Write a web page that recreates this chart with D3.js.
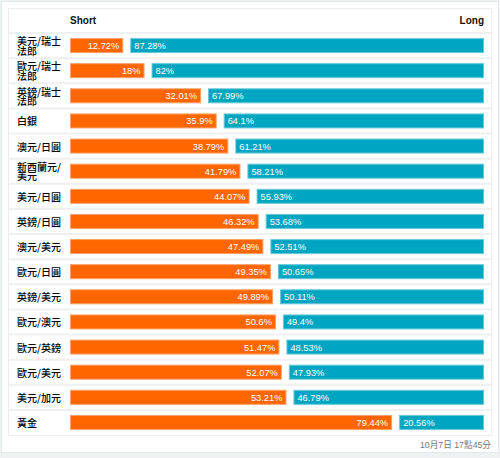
<!DOCTYPE html>
<html><head><meta charset="utf-8">
<script src="https://cdn.jsdelivr.net/npm/d3@7"></script>
<style>
html,body{margin:0;padding:0;background:#eef2f3;}
svg{display:block;}
</style></head>
<body>
<script>
const categories = ["美元/瑞士法郎","歐元/瑞士法郎","英鎊/瑞士法郎","白銀","澳元/日圓","新西蘭元/美元","美元/日圓","英鎊/日圓","澳元/美元","歐元/日圓","英鎊/美元","歐元/澳元","歐元/英鎊","歐元/美元","美元/加元","黃金"];
const shortValues = [12.72,18,32.01,35.9,38.79,41.79,44.07,46.32,47.49,49.35,49.89,50.6,51.47,52.07,53.21,79.44];
const longValues  = [87.28,82,67.99,64.1,61.21,58.21,55.93,53.68,52.51,50.65,50.11,49.4,48.53,47.93,46.79,20.56];
const headers = ["Short","Long"];
const footnote = "10月7日 17點45分";

const W = 500, H = 458;
const svg = d3.select("body").append("svg").attr("width", W).attr("height", H);

// outer white card
svg.append("rect").attr("x",1.5).attr("y",1.5).attr("width",W-3).attr("height",451)
  .attr("fill","#fff").attr("stroke","#e3e8ea");

const panel = {x:8, y:8, w:483, headerH:25, rowH:25.125};
const nRows = categories.length;
const tableBottom = panel.y + panel.headerH + nRows*panel.rowH;

svg.append("rect").attr("x",panel.x+0.5).attr("y",panel.y+0.5)
  .attr("width",panel.w).attr("height",tableBottom-panel.y)
  .attr("fill","#fff").attr("stroke","#eaeeef");

const y = d3.scaleBand().domain(d3.range(nRows))
  .range([panel.y+panel.headerH, tableBottom]).paddingInner(0).paddingOuter(0);

// row separators
svg.append("g").selectAll("line").data(d3.range(nRows))
  .join("line")
  .attr("x1",panel.x+1).attr("x2",panel.x+panel.w)
  .attr("y1",i=>y(i)).attr("y2",i=>y(i))
  .attr("stroke","#eef0f1").attr("stroke-width",2);

const barX0 = 70, barX1 = 484, gap = 7;
const x = d3.scaleLinear().domain([0,100]).range([0, barX1-barX0-gap-4]);
const barH = 15;

// headers
svg.append("text").attr("x",barX0).attr("y",24).text(headers[0])
  .attr("font-family","Liberation Sans, Arial, sans-serif").attr("font-weight","bold")
  .attr("font-size",10).attr("fill","#111");
svg.append("text").attr("x",barX1).attr("y",24).attr("text-anchor","end").text(headers[1])
  .attr("font-family","Liberation Sans, Arial, sans-serif").attr("font-weight","bold")
  .attr("font-size",10).attr("fill","#111");

const rows = svg.append("g").selectAll("g").data(categories.map((c,i)=>({c,i,s:shortValues[i],l:longValues[i]})))
  .join("g").attr("transform",d=>`translate(0,${y(d.i)})`);

const rh = y.bandwidth();
const by = (rh - barH)/2 + 0.5;

// labels (single text element, wrapped with tspans)
rows.each(function(d){
  const g = d3.select(this);
  const lines = d.c.length > 6 ? [d.c.slice(0,5), d.c.slice(5)] : [d.c];
  const lh = 9.5;
  const t = g.append("text")
      .attr("font-family","Noto Sans CJK TC, sans-serif")
      .attr("font-size",10).attr("font-weight",500).attr("fill","#000");
  lines.forEach((s,k)=>{
    t.append("tspan").attr("x",17)
      .attr("y", rh/2 + (k-(lines.length-1)/2)*lh)
      .attr("dominant-baseline","central").text(s);
  });
});

// short bars
rows.append("rect").attr("x",barX0+0.5).attr("y",by)
  .attr("width",d=>x(d.s)+1).attr("height",barH-1)
  .attr("fill","#ff6600").attr("stroke","#ffa066").attr("stroke-width",1);
rows.append("text").attr("x",d=>barX0+x(d.s)+2-4).attr("y",rh/2+0.5)
  .attr("dominant-baseline","central").attr("text-anchor","end")
  .attr("font-family","Liberation Sans, Arial, sans-serif").attr("font-size",9.3)
  .attr("fill","#fff").text(d=>d.s+"%");

// long bars
rows.append("rect").attr("x",d=>barX0+x(d.s)+2+gap+0.5).attr("y",by)
  .attr("width",d=>x(d.l)+1).attr("height",barH-1)
  .attr("fill","#00a6c1").attr("stroke","#66c9d9").attr("stroke-width",1);
rows.append("text").attr("x",d=>barX0+x(d.s)+2+gap+4).attr("y",rh/2+0.5)
  .attr("dominant-baseline","central")
  .attr("font-family","Liberation Sans, Arial, sans-serif").attr("font-size",9.3)
  .attr("fill","#fff").text(d=>d.l+"%");

// footnote
svg.append("text").attr("x",491).attr("y",448).attr("text-anchor","end")
  .attr("font-family","Liberation Sans, Noto Sans CJK TC, sans-serif").attr("font-size",8.7)
  .attr("fill","#777").text(footnote);
</script>
</body></html>
